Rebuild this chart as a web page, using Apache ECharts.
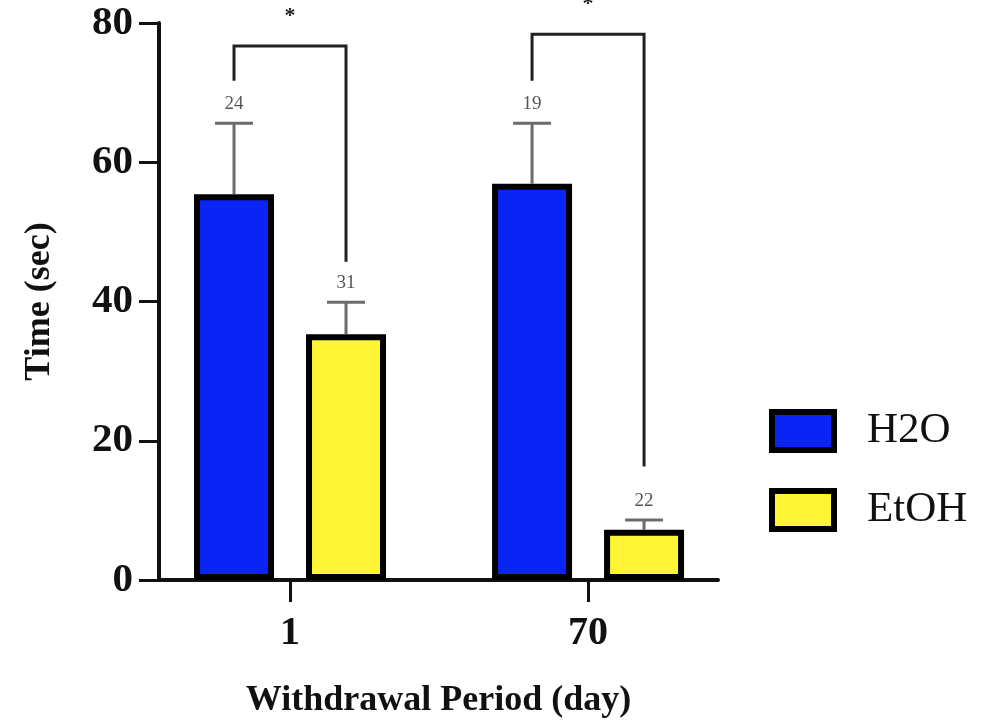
<!DOCTYPE html>
<html><head><meta charset="utf-8">
<script src="https://cdn.jsdelivr.net/npm/echarts@6/dist/echarts.min.js"></script>
<style>html,body{margin:0;padding:0;background:#fff}#c{width:989px;height:724px}</style>
</head><body><div id="c"></div>
<script>
// ---- data ----
const categories = ['1', '70'];
const seriesNames = ['H2O', 'EtOH'];
const h2oMean = [55.4, 56.9];
const h2oSem = [10.2, 8.7];
const h2oN = [24, 19];
const etohMean = [35.3, 7.2];
const etohSem = [4.6, 1.4];
const etohN = [31, 22];
const bracketTop = [76.7, 78.4];
const bracketLeftEnd = [71.7, 71.7];
const bracketRightEnd = [45.7, 16.3];
const sigLabels = ['*', '*'];
const yMin = 0, yMax = 80, yStep = 20;

// ---- style ----
const FONT = 'Liberation Serif';
const BAR_W = 80, GAP = 0.4;
const halfStep = (BAR_W + BAR_W * GAP) / 2;
const idx = categories.map((_, i) => i);

function errRender(sign) {
  return function (params, api) {
    const x = api.value(0), m = api.value(1), e = api.value(2), n = api.value(3);
    const base = api.coord([x, m]);
    const top = api.coord([x, m + e]);
    const cx = base[0] + sign * halfStep;
    const cap = 19;
    return { type: 'group', children: [
      { type: 'line', shape: { x1: cx, y1: base[1], x2: cx, y2: top[1] }, style: { stroke: '#6b6b6b', lineWidth: 3 } },
      { type: 'line', shape: { x1: cx - cap, y1: top[1], x2: cx + cap, y2: top[1] }, style: { stroke: '#6b6b6b', lineWidth: 3 } },
      { type: 'text', x: cx, y: top[1] - 10, style: { text: String(n), fill: '#555', font: '19px "Liberation Serif"', align: 'center', verticalAlign: 'bottom' } }
    ] };
  };
}

function bracketRender(params, api) {
  const x = api.value(0);
  const pT = api.coord([x, api.value(1)]);
  const pL = api.coord([x, api.value(2)]);
  const pR = api.coord([x, api.value(3)]);
  const xl = pT[0] - halfStep, xr = pT[0] + halfStep;
  return { type: 'group', children: [
    { type: 'polyline', shape: { points: [[xl, pL[1]], [xl, pT[1]], [xr, pT[1]], [xr, pR[1]]] }, style: { stroke: '#222', lineWidth: 3, fill: null } },
    { type: 'text', x: pT[0], y: pT[1] - 19, style: { text: sigLabels[params.dataIndex], fill: '#222', font: 'bold 22px "Liberation Serif"', align: 'center', verticalAlign: 'bottom' } }
  ] };
}

const chart = echarts.init(document.getElementById('c'));
chart.setOption({
  animation: false,
  backgroundColor: '#fff',
  textStyle: { fontFamily: FONT },
  grid: { left: 159, right: 271, top: 23, bottom: 142 },
  legend: {
    data: seriesNames, orient: 'vertical', left: 764, top: 404,
    icon: 'rect', itemWidth: 62, itemHeight: 38, itemGap: 35,
    itemStyle: { borderColor: '#000', borderWidth: 6 },
    textStyle: { fontFamily: FONT, fontSize: 43, color: '#111', padding: [7, 0, 0, 28] }
  },
  xAxis: {
    type: 'value', min: -0.4396, max: 1.436,
    axisLine: { show: true, onZero: false, lineStyle: { color: '#111', width: 4 } },
    axisTick: { show: true, customValues: idx, length: 22, lineStyle: { color: '#111', width: 3 } },
    axisLabel: { customValues: idx, formatter: v => categories[Math.round(v)], margin: 34, fontFamily: FONT, fontWeight: 'bold', fontSize: 40, color: '#111' },
    splitLine: { show: false },
    name: 'Withdrawal Period (day)', nameLocation: 'middle', nameGap: 103,
    nameTextStyle: { fontFamily: FONT, fontWeight: 'bold', fontSize: 36, color: '#111' }
  },
  yAxis: {
    type: 'value', min: yMin, max: yMax, interval: yStep,
    axisLine: { show: true, onZero: false, lineStyle: { color: '#111', width: 4 } },
    axisTick: { show: true, length: 20, lineStyle: { color: '#111', width: 3 } },
    axisLabel: { margin: 26, fontFamily: FONT, fontWeight: 'bold', fontSize: 41, color: '#111' },
    splitLine: { show: false },
    name: 'Time (sec)', nameLocation: 'middle', nameGap: 101,
    nameTextStyle: { fontFamily: FONT, fontWeight: 'bold', fontSize: 36, color: '#111' }
  },
  series: [
    { name: seriesNames[0], type: 'bar', barWidth: BAR_W, barGap: (GAP * 100) + '%',
      itemStyle: { color: '#0a24f5', borderColor: '#000', borderWidth: 6 },
      data: idx.map(i => [i, h2oMean[i]]) },
    { name: seriesNames[1], type: 'bar', barWidth: BAR_W, barGap: (GAP * 100) + '%',
      itemStyle: { color: '#fdf536', borderColor: '#000', borderWidth: 6 },
      data: idx.map(i => [i, etohMean[i]]) },
    { type: 'custom', renderItem: errRender(-1), clip: false, z: 3,
      data: idx.map(i => [i, h2oMean[i], h2oSem[i], h2oN[i]]) },
    { type: 'custom', renderItem: errRender(1), clip: false, z: 3,
      data: idx.map(i => [i, etohMean[i], etohSem[i], etohN[i]]) },
    { type: 'custom', renderItem: bracketRender, clip: false, z: 3,
      data: idx.map(i => [i, bracketTop[i], bracketLeftEnd[i], bracketRightEnd[i]]) }
  ]
});
</script></body></html>
